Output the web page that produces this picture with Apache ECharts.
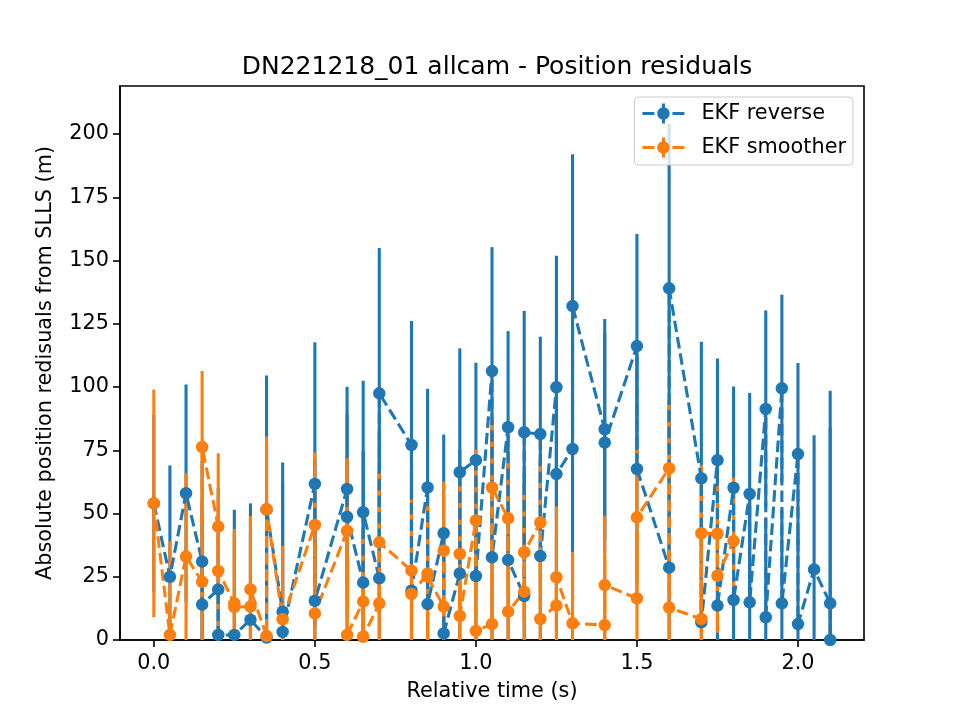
<!DOCTYPE html>
<html>
<head>
<meta charset="utf-8">
<title>DN221218_01 allcam - Position residuals</title>
<script src="https://cdn.jsdelivr.net/npm/echarts@6/dist/echarts.min.js"></script>
<style>
  html, body { margin: 0; padding: 0; background: #fff; }
  #main { width: 960px; height: 720px; }
</style>
</head>
<body>
<div id="main"></div>
<script>
// EKF reverse: time, residual, error
const revT = [0, 0.05, 0.1, 0.15, 0.15, 0.2, 0.2, 0.25, 0.3, 0.35, 0.35, 0.4, 0.4, 0.5, 0.5, 0.6, 0.6, 0.65, 0.65,
  0.7, 0.7, 0.8, 0.8, 0.85, 0.85, 0.9, 0.9, 0.95, 0.95, 1.0, 1.0, 1.05, 1.05, 1.1, 1.1, 1.15, 1.15, 1.2, 1.2,
  1.25, 1.25, 1.3, 1.3, 1.4, 1.4, 1.5, 1.5, 1.6, 1.6, 1.7, 1.7, 1.75, 1.75, 1.8, 1.8, 1.85, 1.85, 1.9, 1.9,
  1.95, 1.95, 2.0, 2.0, 2.05, 2.1, 2.1]
const revVal = [54, 25, 58, 31, 14, 20, 2, 2, 8, 1, 51.6, 11.2, 3.2, 61.7, 15.5, 59.7, 48.7, 22.7, 50.5,
  24.4, 97.5, 77.1, 19.5, 60.3, 14.2, 42.2, 2.6, 26.3, 66.3, 71.1, 25.3, 106.3, 32.7, 84.1, 31.6, 17.4, 82.1, 81.4, 33.2,
  99.9, 65.6, 75.5, 132, 83.3, 78, 116.2, 67.6, 28.6, 139, 63.9, 7, 71.1, 13.6, 60.2, 15.8, 57.7, 14.9, 91.3, 9,
  99.5, 14.5, 73.5, 6.3, 27.9, 14.5, 0]
const revErr = [35, 44, 43, 40, 40, 40, 40, 49.5, 46, 52, 53, 59, 59, 56, 56, 40.4, 40.4, 52, 52,
  57.5, 57.5, 49, 49, 39, 39, 39, 39, 49, 49, 38.5, 38.5, 49, 49, 38, 38, 48, 48, 38.5, 38.5,
  52, 52, 60, 60, 43.6, 43.6, 44.3, 44.3, 65, 65, 54, 54, 40.2, 40.2, 40, 40, 40, 40, 39, 39,
  37, 37, 36, 36, 53, 84, 84]

// EKF smoother: time, residual, error
const smoT = [0, 0.05, 0.1, 0.15, 0.15, 0.2, 0.2, 0.25, 0.25, 0.3, 0.3, 0.35, 0.35, 0.4, 0.5, 0.5, 0.6, 0.6, 0.65, 0.65,
  0.7, 0.7, 0.8, 0.8, 0.85, 0.85, 0.9, 0.9, 0.95, 0.95, 1.0, 1.0, 1.05, 1.05, 1.1, 1.1, 1.15, 1.15, 1.2, 1.2,
  1.25, 1.25, 1.3, 1.4, 1.4, 1.5, 1.5, 1.6, 1.6, 1.7, 1.7, 1.75, 1.75, 1.8]
const smoVal = [54, 2, 33, 23, 76.3, 44.8, 27.3, 14.5, 13, 13.2, 20, 1.6, 51.7, 8.2, 45.5, 10.5, 43.1, 2, 15.2, 1.3,
  14.5, 38.6, 27.4, 18.2, 26.3, 25, 13.2, 35.3, 34, 9.5, 47.2, 3.6, 6.3, 60.3, 48.1, 11.2, 19.1, 34.7, 46.4, 8.3,
  13.6, 24.8, 6.6, 5.9, 21.7, 16.5, 48.5, 67.9, 12.8, 8.3, 42.2, 42, 25.4, 39.1]
const smoErr = [45, 37, 33, 30, 30, 29, 29, 29.4, 29.4, 29, 29, 28.7, 28.7, 29, 28.7, 28.7, 28.7, 28.7, 28, 28,
  28, 28, 28, 28, 28, 28, 27.3, 27.3, 28, 28, 28, 28, 27.3, 27.3, 26.3, 26.3, 27, 27, 25, 25,
  28, 28, 28.3, 27.4, 27.4, 26.6, 26.6, 27, 27, 27, 27, 22.5, 22.5, 25]

const xTicks = [0, 0.5, 1.0, 1.5, 2.0]
const yTicks = [0, 25, 50, 75, 100, 125, 150, 175, 200]

const blue = '#1f77b4'
const orange = '#ff7f0e'
const font = 'DejaVu Sans'
// legend handle: dash, errorbar stub, marker, errorbar stub, dash (42 x 20 box)
const handle = 'path://M0 8.45h12v3.1h-12Z M30 8.45h12v3.1h-12Z M19.45 0h3.1v4h-3.1Z M19.45 16h3.1v4h-3.1Z ' +
  'M14.75 10A6.25 6.25 0 1 1 27.25 10A6.25 6.25 0 1 1 14.75 10Z'

function pairs(t, v) {
  return t.map((x, i) => [x, v[i]])
}
function triples(t, v, e) {
  return t.map((x, i) => [x, v[i], e[i]])
}

function errSeries(name, data, color) {
  return {
    name: name,
    type: 'custom',
    clip: true,
    data: data,
    encode: {x: 0, y: 1},
    renderItem: function (params, api) {
      const t = api.value(0), v = api.value(1), e = api.value(2)
      const lo = api.coord([t, v - e])
      const hi = api.coord([t, v + e])
      return {
        type: 'line',
        shape: {x1: lo[0], y1: lo[1], x2: hi[0], y2: hi[1]},
        style: {stroke: color, lineWidth: 3.1}
      }
    },
    z: 2
  }
}

function lineSeries(name, data, color) {
  return {
    name: name,
    type: 'line',
    data: data,
    color: color,
    symbol: 'circle',
    symbolSize: 12.5,
    showAllSymbol: true,
    clip: true,
    lineStyle: {color: color, width: 3.1, type: [11.6, 5]},
    itemStyle: {color: color},
    emphasis: {disabled: true},
    z: 2
  }
}

const chart = echarts.init(document.getElementById('main'), null, {renderer: 'canvas'})
chart.setOption({
  animation: false,
  backgroundColor: '#fff',
  textStyle: {fontFamily: font},
  title: {
    text: 'DN221218_01 allcam - Position residuals',
    left: 492,
    textAlign: 'center',
    top: 50,
    textStyle: {fontFamily: font, fontSize: 25, fontWeight: 'normal', color: '#000'}
  },
  legend: {
    right: 107,
    top: 97,
    orient: 'vertical',
    itemWidth: 42,
    itemHeight: 20,
    itemGap: 13,
    padding: [6, 7, 7, 8],
    backgroundColor: 'rgba(255,255,255,0.8)',
    borderColor: '#cccccc',
    borderWidth: 1,
    borderRadius: 4,
    textStyle: {fontFamily: font, fontSize: 20.8, color: '#000', padding: [0, 0, 0, 12]},
    data: [
      {name: 'EKF reverse', icon: handle, itemStyle: {color: blue}},
      {name: 'EKF smoother', icon: handle, itemStyle: {color: orange}}
    ]
  },
  grid: {
    left: 120, right: 96, top: 86, bottom: 80,
    show: true, borderColor: '#000', borderWidth: 1.6, backgroundColor: 'transparent'
  },
  xAxis: {
    type: 'value',
    min: -0.105,
    max: 2.205,
    name: 'Relative time (s)',
    nameLocation: 'middle',
    nameGap: 41,
    nameTextStyle: {fontFamily: font, fontSize: 20.8, color: '#000'},
    splitLine: {show: false},
    axisLine: {show: true, onZero: false, lineStyle: {color: '#000', width: 1.6}},
    axisTick: {show: true, length: 7, customValues: xTicks, lineStyle: {color: '#000', width: 1.6}},
    axisLabel: {
      customValues: xTicks, margin: 13, color: '#000', fontFamily: font, fontSize: 20.8,
      formatter: v => v.toFixed(1)
    }
  },
  yAxis: {
    type: 'value',
    min: 0,
    max: 219,
    name: 'Absolute position redisuals from SLLS (m)',
    nameLocation: 'middle',
    nameRotate: 90,
    nameGap: 64,
    nameTextStyle: {fontFamily: font, fontSize: 20.8, color: '#000'},
    splitLine: {show: false},
    axisLine: {show: true, onZero: false, lineStyle: {color: '#000', width: 1.6}},
    axisTick: {show: true, length: 7, customValues: yTicks, lineStyle: {color: '#000', width: 1.6}},
    axisLabel: {
      customValues: yTicks, margin: 11, color: '#000', fontFamily: font, fontSize: 20.8,
      formatter: v => String(Math.round(v))
    }
  },
  series: [
    lineSeries('EKF reverse', pairs(revT, revVal), blue),
    errSeries('EKF reverse err', triples(revT, revVal, revErr), blue),
    lineSeries('EKF smoother', pairs(smoT, smoVal), orange),
    errSeries('EKF smoother err', triples(smoT, smoVal, smoErr), orange)
  ]
})
</script>
</body>
</html>
